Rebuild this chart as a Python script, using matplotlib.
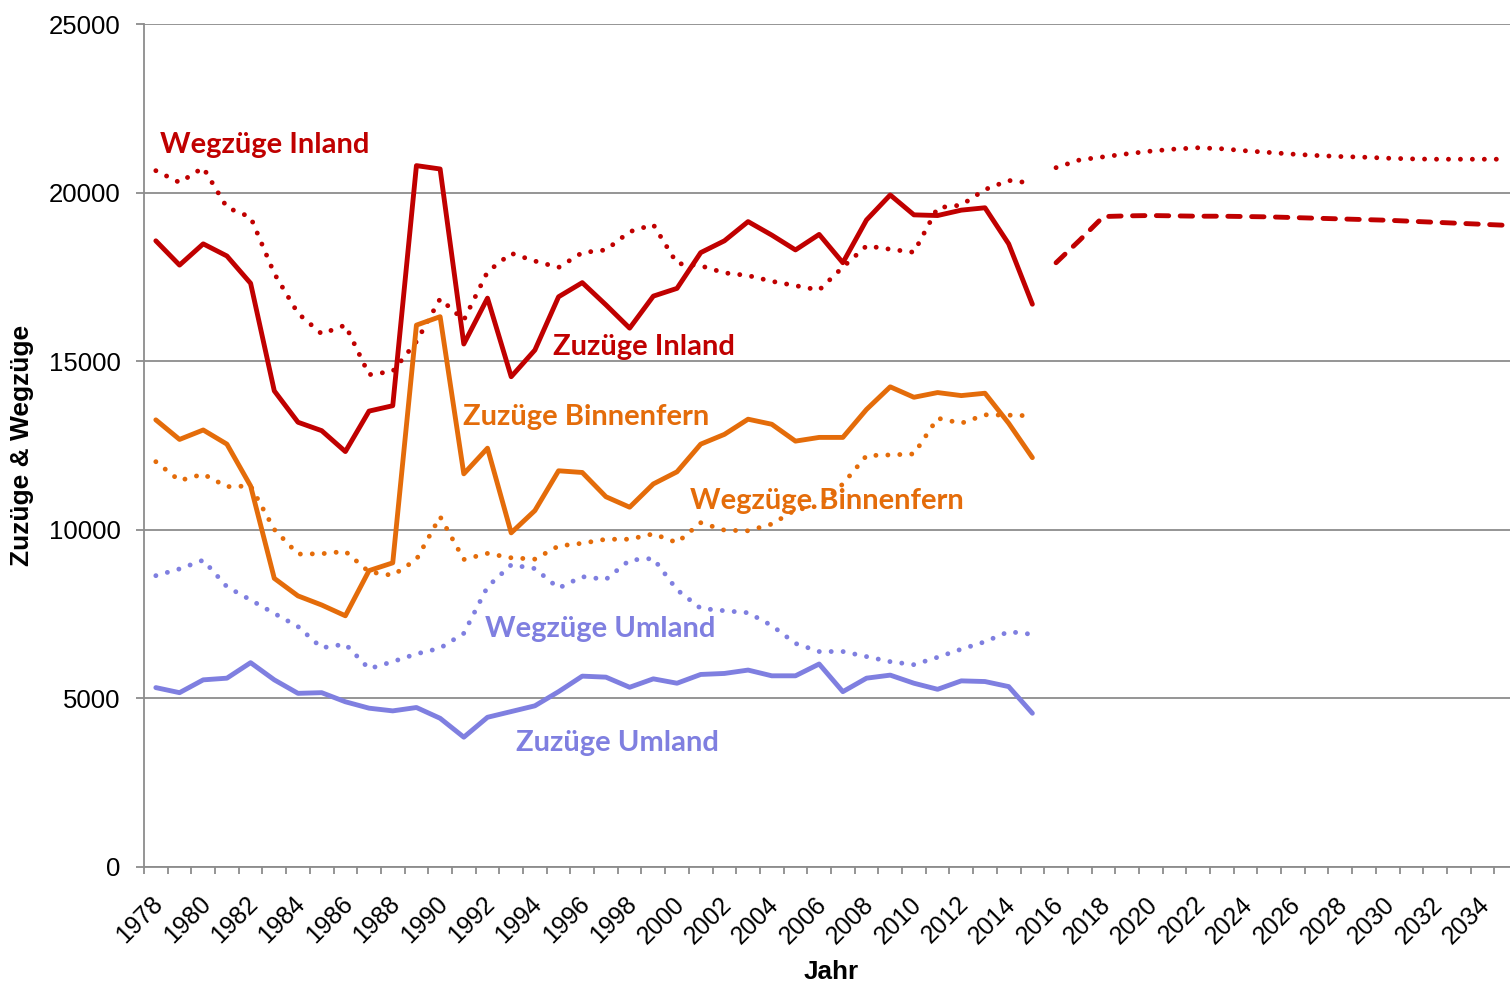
import numpy as np
import matplotlib
matplotlib.use('Agg')
import matplotlib.pyplot as plt
import matplotlib.transforms as mtransforms

plt.rcParams['font.family'] = ['Liberation Sans', 'DejaVu Sans']

# Jahre als Kategorien (1978 - 2035)
years = list(range(1978, 2036))
hist_years = list(range(1978, 2016))
prog_years = list(range(2016, 2036))

# Historische Werte 1978 - 2015
zuzuege_inland = [18570, 17850, 18480, 18120, 17310, 14120, 13190, 12940, 12320, 13520,
                  13680, 20800, 20700, 15510, 16870, 14540, 15330, 16910, 17330, 16670,
                  15980, 16930, 17160, 18220, 18570, 19140, 18740, 18300, 18760, 17920,
                  19190, 19930, 19340, 19320, 19480, 19550, 18480, 16690]
wegzuege_inland = [20650, 20300, 20740, 19560, 19270, 17600, 16420, 15810, 16070, 14600,
                   14700, 15580, 16850, 16220, 17650, 18200, 17970, 17780, 18220, 18300,
                   18840, 19050, 17900, 17830, 17620, 17540, 17370, 17240, 17110, 17790,
                   18420, 18320, 18230, 19550, 19630, 20090, 20360, 20280]
zuzuege_binnenfern = [13260, 12680, 12960, 12540, 11300, 8560, 8040, 7770, 7450, 8790,
                      9020, 16070, 16320, 11660, 12420, 9910, 10570, 11750, 11700, 10980,
                      10670, 11360, 11720, 12540, 12830, 13280, 13130, 12630, 12740, 12740,
                      13570, 14240, 13930, 14070, 13980, 14050, 13160, 12140]
wegzuege_binnenfern = [12020, 11460, 11650, 11280, 11300, 10010, 9280, 9290, 9360, 8750,
                       8650, 9120, 10390, 9120, 9300, 9170, 9130, 9520, 9600, 9720,
                       9720, 9880, 9620, 10210, 9990, 9970, 10170, 10590, 10710, 11360,
                       12200, 12220, 12250, 13310, 13160, 13410, 13400, 13380]
wegzuege_umland = [8640, 8840, 9100, 8310, 7920, 7520, 7130, 6500, 6610, 5880,
                   6090, 6320, 6490, 6930, 8310, 8960, 8850, 8270, 8610, 8530,
                   9100, 9150, 8220, 7670, 7600, 7540, 7160, 6630, 6390, 6390,
                   6240, 6090, 6000, 6220, 6460, 6680, 6980, 6900]
zuzuege_umland = [5320, 5170, 5550, 5600, 6060, 5550, 5150, 5170, 4900, 4710,
                  4630, 4730, 4410, 3850, 4440, 4610, 4780, 5200, 5660, 5630,
                  5330, 5580, 5450, 5710, 5740, 5840, 5670, 5670, 6020, 5200,
                  5600, 5690, 5450, 5270, 5520, 5500, 5350, 4560]

# Prognose 2016 - 2035
wegzuege_inland_prog = [20740, 20970, 21060, 21150, 21230, 21290, 21330, 21300, 21240, 21190,
                        21140, 21100, 21070, 21050, 21020, 21000, 20990, 20990, 20990, 20990]
zuzuege_inland_prog = [17920, 18590, 19290, 19310, 19320, 19310, 19300, 19300, 19290, 19280,
                       19260, 19240, 19220, 19200, 19180, 19150, 19120, 19090, 19060, 19030]

y_ticks = [0, 5000, 10000, 15000, 20000, 25000]

# Farben
red = '#C00000'
orange = '#E46C0A'
purple = '#7F7FE0'
grey = '#8C8C8C'

fig = plt.figure(figsize=(15.1, 9.84), dpi=100)
ax = fig.add_axes([144 / 1510, 117 / 984, 1374 / 1510, 843 / 984])

# Kategorie-Positionen
hist_x = np.array([years.index(y) for y in hist_years])
prog_x = np.array([years.index(y) for y in prog_years])

lw = 3.5
dotted = (0, (0.01, 2.45))
dashed = (0, (2.55, 2.35))

def draw(x, y, color, style):
    if style == 'solid':
        ax.plot(x, y, color=color, lw=lw, solid_capstyle='round', solid_joinstyle='round')
    else:
        ax.plot(x, y, color=color, lw=lw, linestyle=style,
                dash_capstyle='round', dash_joinstyle='round')

draw(hist_x, wegzuege_inland, red, dotted)
draw(hist_x, zuzuege_inland, red, 'solid')
draw(hist_x, wegzuege_binnenfern, orange, dotted)
draw(hist_x, zuzuege_binnenfern, orange, 'solid')
draw(hist_x, wegzuege_umland, purple, dotted)
draw(hist_x, zuzuege_umland, purple, 'solid')
draw(prog_x, wegzuege_inland_prog, red, dotted)
draw(prog_x, zuzuege_inland_prog, red, dashed)

# Serien-Beschriftungen
lab_font = dict(family=['Lato', 'DejaVu Sans'], fontweight='bold', fontsize=21,
                ha='left', va='center')
ax.text(0.18, 21420, 'Wegzüge Inland', color=red, **lab_font)
ax.text(16.76, 15430, 'Zuzüge Inland', color=red, **lab_font)
ax.text(12.97, 13350, 'Zuzüge Binnenfern', color=orange, **lab_font)
ax.text(22.55, 10860, 'Wegzüge Binnenfern', color=orange, **lab_font)
ax.text(13.89, 7070, 'Wegzüge Umland', color=purple, **lab_font)
ax.text(15.2, 3690, 'Zuzüge Umland', color=purple, **lab_font)

# Achsen
ax.set_xlim(-0.5, len(years) - 0.5)
ax.set_ylim(0, 25000)
ax.set_yticks(y_ticks)
ax.set_yticklabels([str(v) for v in y_ticks])
ax.set_xticks(np.arange(0, len(years), 2))
ax.set_xticklabels([str(y) for y in years[::2]], rotation=45, ha='right', va='top',
                   rotation_mode='anchor')
ax.set_xticks(np.arange(-0.5, len(years), 1), minor=True)

ax.tick_params(axis='x', which='major', length=0, pad=18, labelsize=17.8)
ax.tick_params(axis='x', which='minor', length=5, width=1.3, color=grey)
ax.tick_params(axis='y', which='major', length=6, width=1.3, color=grey, pad=11,
               labelsize=18.5)

# Jahreszahlen etwas nach links schieben
shift = mtransforms.ScaledTranslation(-5 / 100, 0, fig.dpi_scale_trans)
for lbl in ax.get_xticklabels():
    lbl.set_transform(lbl.get_transform() + shift)

ax.grid(True, axis='y', color=grey, lw=1.3)
ax.set_axisbelow(True)
for side in ['top', 'right']:
    ax.spines[side].set_visible(False)
for side in ['left', 'bottom']:
    ax.spines[side].set_color(grey)
    ax.spines[side].set_linewidth(1.3)

ax.set_xlabel('Jahr', fontsize=18.8, fontweight='bold')
ax.set_ylabel('Zuzüge & Wegzüge', fontsize=19, fontweight='bold')
ax.xaxis.set_label_coords(0.5, -0.110)
ax.yaxis.set_label_coords(-0.080, 0.5)

fig.savefig('out.png', dpi=100)
